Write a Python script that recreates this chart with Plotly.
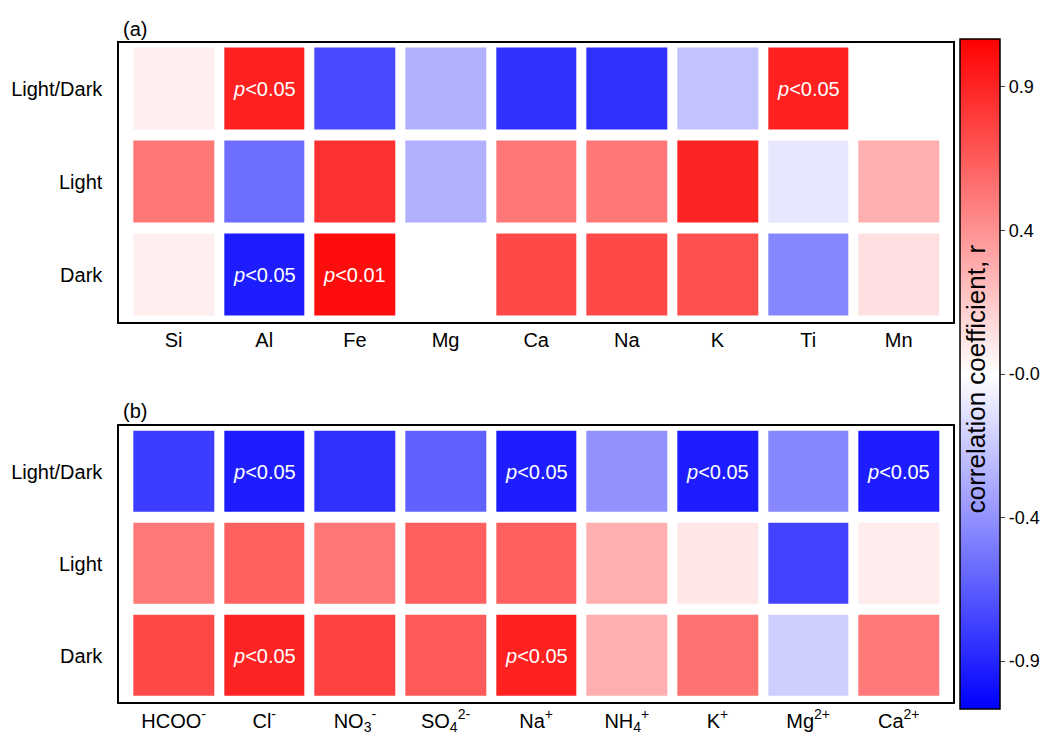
import plotly.graph_objects as go

rows = ["Dark", "Light", "Light/Dark"]
elems = ["Si", "Al", "Fe", "Mg", "Ca", "Na", "K", "Ti", "Mn"]
ions = ["HCOO<sup>-</sup>", "Cl<sup>-</sup>", "NO<sub>3</sub><sup>-</sup>", "SO<sub>4</sub><sup>2-</sup>",
        "Na<sup>+</sup>", "NH<sub>4</sub><sup>+</sup>", "K<sup>+</sup>", "Mg<sup>2+</sup>", "Ca<sup>2+</sup>"]

# rows listed bottom to top: Dark, Light, Light/Dark
r_a = [
    [0.07, -0.93, 1.00, None, 0.75, 0.75, 0.72, -0.50, 0.13],
    [0.56, -0.60, 0.85, -0.32, 0.56, 0.56, 0.90, -0.10, 0.33],
    [0.07, 0.92, -0.75, -0.32, -0.85, -0.85, -0.25, 0.92, None],
]
r_b = [
    [0.75, 0.90, 0.78, 0.68, 0.92, 0.33, 0.58, -0.20, 0.55],
    [0.55, 0.65, 0.56, 0.66, 0.66, 0.33, 0.10, -0.78, 0.08],
    [-0.80, -0.93, -0.85, -0.65, -0.93, -0.45, -0.93, -0.50, -0.93],
]
sig_a = [(1, "Light/Dark", "0.05"), (7, "Light/Dark", "0.05"), (1, "Dark", "0.05"), (2, "Dark", "0.01")]
sig_b = [(1, "Light/Dark", "0.05"), (4, "Light/Dark", "0.05"), (6, "Light/Dark", "0.05"),
         (8, "Light/Dark", "0.05"), (1, "Dark", "0.05"), (4, "Dark", "0.05")]

bwr = [[0, "rgb(0,0,255)"], [0.5, "rgb(255,255,255)"], [1, "rgb(255,0,0)"]]
font = "Liberation Sans, Arial"

fig = go.Figure()
fig.add_trace(go.Heatmap(z=r_a, x=list(range(9)), y=rows, colorscale=bwr, zmin=-1.05, zmax=1.05,
                         xgap=10, ygap=11, xaxis="x", yaxis="y", showscale=True,
                         colorbar=dict(x=0.908, xanchor="left", xpad=0, ypad=0,
                                       y=0.512, yanchor="middle", len=0.893, thickness=40,
                                       outlinewidth=1.5, outlinecolor="black",
                                       tickvals=[0.9, 0.45, 0, -0.45, -0.9],
                                       ticktext=["0.9", "0.4", "-0.0", "-0.4", "-0.9"],
                                       ticks="outside", tickfont=dict(size=18))))
fig.add_trace(go.Heatmap(z=r_b, x=list(range(9)), y=rows, colorscale=bwr, zmin=-1.05, zmax=1.05,
                         xgap=10, ygap=11, xaxis="x2", yaxis="y2", showscale=False))

ann = []
for i, row, p in sig_a:
    ann.append(dict(x=i, y=row, xref="x", yref="y", text=f"<i>p</i><{p}", showarrow=False,
                    font=dict(color="white", size=20)))
for i, row, p in sig_b:
    ann.append(dict(x=i, y=row, xref="x2", yref="y2", text=f"<i>p</i><{p}", showarrow=False,
                    font=dict(color="white", size=20)))
ann.append(dict(x=0.108, y=0.955, xref="paper", yref="paper", text="(a)", showarrow=False,
                xanchor="left", yanchor="bottom", font=dict(size=20)))
ann.append(dict(x=0.108, y=0.446, xref="paper", yref="paper", text="(b)", showarrow=False,
                xanchor="left", yanchor="bottom", font=dict(size=20)))
ann.append(dict(x=0.939, y=0.505, xref="paper", yref="paper", text="correlation coefficient, r",
                showarrow=False, textangle=-90, font=dict(size=26)))

ax = dict(showline=True, mirror=True, linecolor="black", linewidth=1.5, ticks="", showgrid=False,
          zeroline=False, tickfont=dict(size=20))
fig.update_layout(
    width=1049, height=750, margin=dict(l=0, r=0, t=0, b=0, autoexpand=False),
    plot_bgcolor="white", paper_bgcolor="white",
    font=dict(family=font, color="black"),
    xaxis=dict(ax, domain=[0.106, 0.901], anchor="y", range=[-0.6, 8.6],
               tickvals=list(range(9)), ticktext=elems),
    yaxis=dict(ax, domain=[0.582, 0.954], anchor="x", ticksuffix="  "),
    xaxis2=dict(ax, domain=[0.106, 0.901], anchor="y2", range=[-0.6, 8.6],
                tickvals=list(range(9)), ticktext=ions),
    yaxis2=dict(ax, domain=[0.075, 0.443], anchor="x2", ticksuffix="  "),
    annotations=ann,
)
fig.write_html("out.html")
